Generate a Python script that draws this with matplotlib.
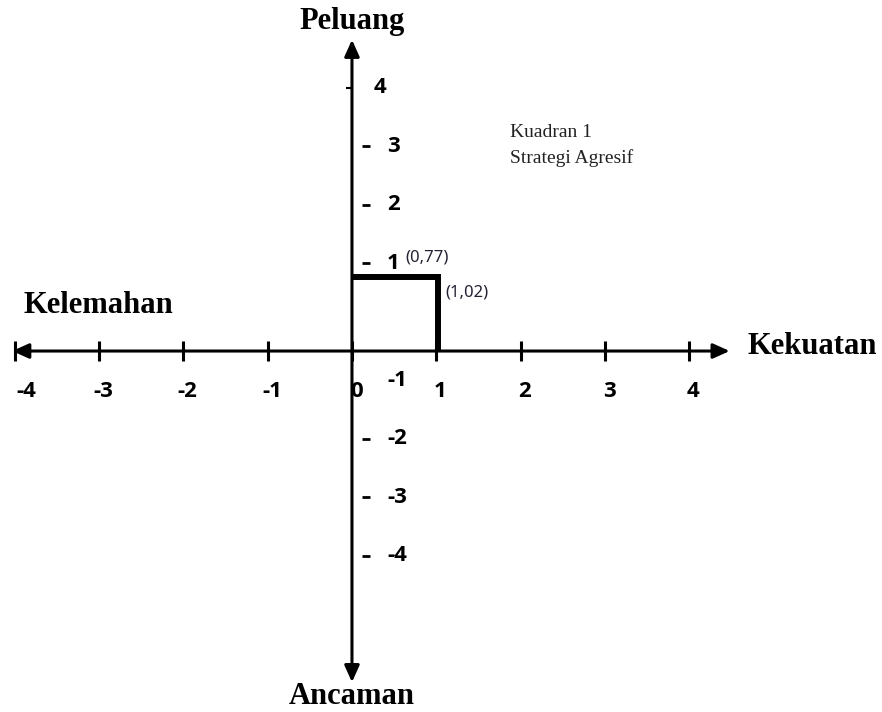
import numpy as np
import matplotlib
matplotlib.use("Agg")
import matplotlib.pyplot as plt

# ---- data ----
x_ticks = [-4, -3, -2, -1, 0, 1, 2, 3, 4]
x_tick_labels = ["-4", "-3", "-2", "-1", "0", "1", "2", "3", "4"]
y_ticks = [4, 3, 2, 1, -1, -2, -3, -4]
y_tick_labels = ["4", "3", "2", "1", "-1", "-2", "-3", "-4"]
strength_score = 1.02     # Kekuatan (x)
opportunity_score = 0.77  # Peluang (y)
point_labels = ["(0,77)", "(1,02)"]
axis_titles = ["Peluang", "Ancaman", "Kelemahan", "Kekuatan"]
quadrant_text = ["Kuadran 1", "Strategi Agresif"]

# ---- layout / style ----
W, H = 882, 712
fig = plt.figure(figsize=(W / 100, H / 100), dpi=100)
ax = fig.add_axes([0, 0, 1, 1])
ax.set_xlim(-4.175, 6.287)
ax.set_ylim(-6.67, 5.5)
ax.axis("off")

AX_Y = -0.5          # hand-drawn horizontal axis sits half a unit below y=0
num_font = dict(family="Open Sans", weight="bold", size=16)
title_font = dict(family="Liberation Serif", weight="bold", size=22)

# axes with arrows
arrow_kw = dict(arrowstyle="<|-|>,head_length=1.0,head_width=0.45", lw=2.2,
                color="black", shrinkA=0, shrinkB=0, mutation_scale=10)
ax.annotate("", xy=(4.48, AX_Y), xytext=(-4.03, AX_Y), arrowprops=arrow_kw)
ax.annotate("", xy=(0, 4.82), xytext=(0, -6.16), arrowprops=arrow_kw)

# x tick marks and labels
ax.plot(x_ticks, [AX_Y] * len(x_ticks), ls="none", marker="|", ms=14,
        mew=2.2, color="black")
for xv, lab in zip(x_ticks, x_tick_labels):
    dx = 8 if xv == -4 else 3
    ax.annotate(lab, xy=(xv, AX_Y), xytext=(dx, -29), textcoords="offset points",
                ha="center", va="center", **num_font)

# y tick dashes and labels
dash_vals = [v for v in y_ticks if v not in (4, -1)]
ax.plot([0.17] * len(dash_vals), dash_vals, ls="none", marker="_", ms=6,
        mew=2.0, color="black")
ax.plot([-0.03], [4], ls="none", marker="_", ms=4, mew=1.5, color="black")
for yv, lab in zip(y_ticks, y_tick_labels):
    xpos = 0.26 if yv == 4 else 0.415
    ax.text(xpos, yv, lab, ha="left", va="center", **num_font)

# strategy position lines
ax.plot([0, strength_score, strength_score],
        [opportunity_score, opportunity_score, AX_Y],
        lw=4.3, color="black", solid_joinstyle="miter", solid_capstyle="butt")
ax.annotate(point_labels[0], xy=(0, opportunity_score), xytext=(54, 14),
            textcoords="offset points", ha="center", va="center",
            family="Noto Sans", size=12, color="#222233")
ax.annotate(point_labels[1], xy=(strength_score, opportunity_score),
            xytext=(5, -11.5), textcoords="offset points", ha="left",
            va="center", family="Noto Sans", size=12, color="#222233")

# quadrant text
ax.text(1.88, 3.23, quadrant_text[0], ha="left", va="center",
        family="Liberation Serif", size=14, color="#222222")
ax.text(1.88, 2.80, quadrant_text[1], ha="left", va="center",
        family="Liberation Serif", size=14, color="#222222")

# axis titles
fig.text(352 / W, 1 - 22 / H, axis_titles[0], ha="center", va="center", **title_font)
fig.text(352 / W, 1 - 697 / H, axis_titles[1], ha="center", va="center", **title_font)
fig.text(24 / W, 1 - 305 / H, axis_titles[2], ha="left", va="center", **title_font)
fig.text(748 / W, 1 - 346 / H, axis_titles[3], ha="left", va="center", **title_font)

fig.savefig("out.png", dpi=100, facecolor="white")
